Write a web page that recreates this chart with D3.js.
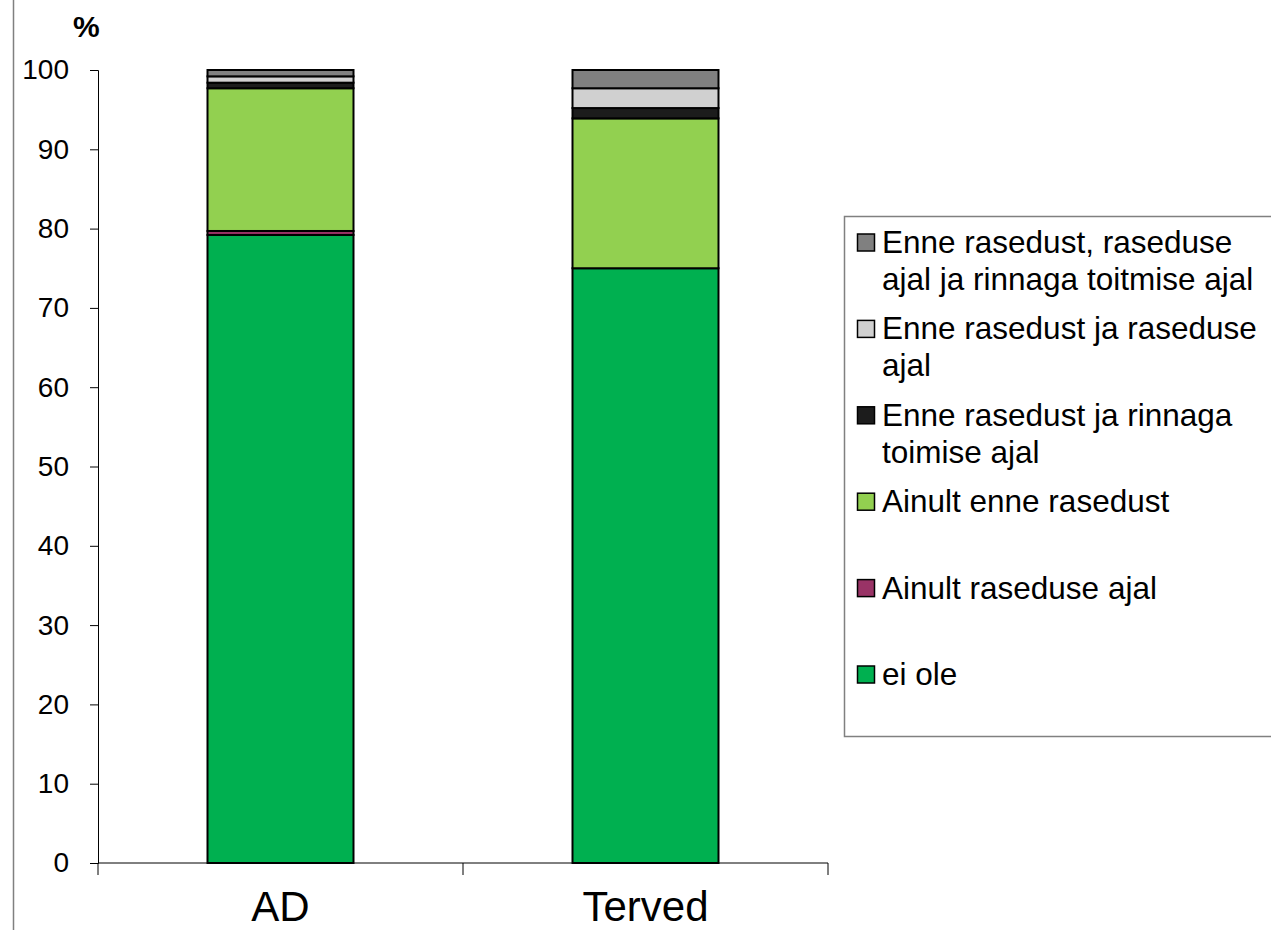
<!DOCTYPE html>
<html>
<head>
<meta charset="utf-8">
<script src="https://cdn.jsdelivr.net/npm/d3@7"></script>
<style>
  html, body { margin: 0; padding: 0; background: #fff; }
  svg { display: block; font-family: "Liberation Sans", Arial, sans-serif; }
</style>
</head>
<body>
<svg id="chart" width="1271" height="930"></svg>
<script>
// Groups on the x axis
const categories = ["AD", "Terved"];

// Series, listed bottom-to-top as stacked in each bar
const seriesNames = [
  "ei ole",
  "Ainult raseduse ajal",
  "Ainult enne rasedust",
  "Enne rasedust ja rinnaga toimise ajal",
  "Enne rasedust ja raseduse ajal",
  "Enne rasedust, raseduse ajal ja rinnaga toitmise ajal"
];

// Percentages per series, one value per category (AD, Terved)
const eiOle            = [79.2, 75.0];
const ainultRaseduse   = [0.5, 0.0];
const ainultEnne       = [18.0, 18.9];
const enneJaRinnaga    = [0.7, 1.3];
const enneJaRaseduse   = [0.8, 2.5];
const enneRasedusRinna = [0.8, 2.3];

const seriesValues = [eiOle, ainultRaseduse, ainultEnne, enneJaRinnaga, enneJaRaseduse, enneRasedusRinna];
const seriesColors = ["#00B050", "#993366", "#92D050", "#1C1C1C", "#D0D0D0", "#808080"];

// Legend text, top entry first, wrapped as in the legend box
const legendLines = [
  ["Enne rasedust, raseduse", "ajal ja rinnaga toitmise ajal"],
  ["Enne rasedust ja raseduse", "ajal"],
  ["Enne rasedust ja rinnaga", "toimise ajal"],
  ["Ainult enne rasedust"],
  ["Ainult raseduse ajal"],
  ["ei ole"]
];

const yTicks = [0, 10, 20, 30, 40, 50, 60, 70, 80, 90, 100];

// Build row objects for d3.stack
const rows = categories.map((c, i) => {
  const r = { category: c };
  seriesNames.forEach((s, k) => { r[s] = seriesValues[k][i]; });
  return r;
});

const svg = d3.select("#chart");

const plot = { left: 98, right: 828, top: 70, bottom: 863 };

const x = d3.scaleBand()
  .domain(categories)
  .range([plot.left, plot.right])
  .paddingInner(0.6)
  .paddingOuter(0.3);

const y = d3.scaleLinear().domain([0, 100]).range([plot.bottom, plot.top]);

const color = d3.scaleOrdinal().domain(seriesNames).range(seriesColors);

// Outer frame line at the left edge
svg.append("line")
  .attr("x1", 13.5).attr("x2", 13.5)
  .attr("y1", 0).attr("y2", 930)
  .attr("stroke", "#808080").attr("stroke-width", 1.5);

// Y axis
const yAxis = svg.append("g")
  .attr("transform", `translate(${plot.left},0)`)
  .call(d3.axisLeft(y).tickValues(yTicks).tickSize(8).tickPadding(21).tickFormat(d3.format("d")));
yAxis.select(".domain").attr("stroke", "#000").attr("stroke-width", 1);
yAxis.selectAll(".tick line").attr("stroke", "#000");
yAxis.selectAll(".tick text")
  .attr("font-size", 28)
  .attr("font-family", "Liberation Sans, Arial, sans-serif")
  .attr("fill", "#000");

// Unit label
svg.append("text")
  .attr("x", 73).attr("y", 37)
  .attr("font-size", 30).attr("font-weight", "bold")
  .attr("fill", "#000")
  .text("%");

// Stacked bars
const stacked = d3.stack().keys(seriesNames)(rows);

svg.append("g")
  .selectAll("g")
  .data(stacked)
  .join("g")
  .attr("fill", d => color(d.key))
  .selectAll("rect")
  .data(d => d)
  .join("rect")
  .attr("x", d => x(d.data.category))
  .attr("width", x.bandwidth())
  .attr("y", d => y(d[1]))
  .attr("height", d => y(d[0]) - y(d[1]))
  .attr("stroke", "#000")
  .attr("stroke-width", 2);

// X axis: baseline and tick marks on category boundaries
const boundaries = [plot.left];
categories.forEach(c => boundaries.push(x(c) - x.step() * x.paddingInner() / 2 + x.step()));
const xAxis = svg.append("g");
xAxis.append("line")
  .attr("x1", plot.left).attr("x2", plot.right)
  .attr("y1", plot.bottom).attr("y2", plot.bottom)
  .attr("stroke", "#000").attr("stroke-width", 1);
xAxis.selectAll("line.tick")
  .data(boundaries)
  .join("line")
  .attr("class", "tick")
  .attr("x1", d => d).attr("x2", d => d)
  .attr("y1", plot.bottom).attr("y2", plot.bottom + 12)
  .attr("stroke", "#000").attr("stroke-width", 1);
xAxis.selectAll("text")
  .data(categories)
  .join("text")
  .attr("x", d => x(d) + x.bandwidth() / 2)
  .attr("y", 921)
  .attr("text-anchor", "middle")
  .attr("font-size", 42)
  .attr("fill", "#000")
  .text(d => d);

// Legend
const legend = svg.append("g");
legend.append("rect")
  .attr("x", 844.5).attr("y", 216.5)
  .attr("width", 440).attr("height", 520)
  .attr("fill", "#fff")
  .attr("stroke", "#808080").attr("stroke-width", 1.5);

const legendOrder = seriesNames.slice().reverse();
const firstBaseline = 253;
const itemStep = 86.4;
const lineStep = 37;

const items = legend.selectAll("g.item")
  .data(legendOrder)
  .join("g")
  .attr("class", "item")
  .attr("transform", (d, i) => `translate(0,${firstBaseline + i * itemStep})`);

items.append("rect")
  .attr("x", 857.5).attr("y", -19)
  .attr("width", 17).attr("height", 17)
  .attr("fill", d => color(d))
  .attr("stroke", "#000").attr("stroke-width", 1.5);

items.append("text")
  .attr("x", 882)
  .attr("font-size", 31.5)
  .attr("fill", "#000")
  .selectAll("tspan")
  .data((d, i) => legendLines[i])
  .join("tspan")
  .attr("x", 882)
  .attr("dy", (d, j) => j === 0 ? 0 : lineStep)
  .text(d => d);
</script>
</body>
</html>
